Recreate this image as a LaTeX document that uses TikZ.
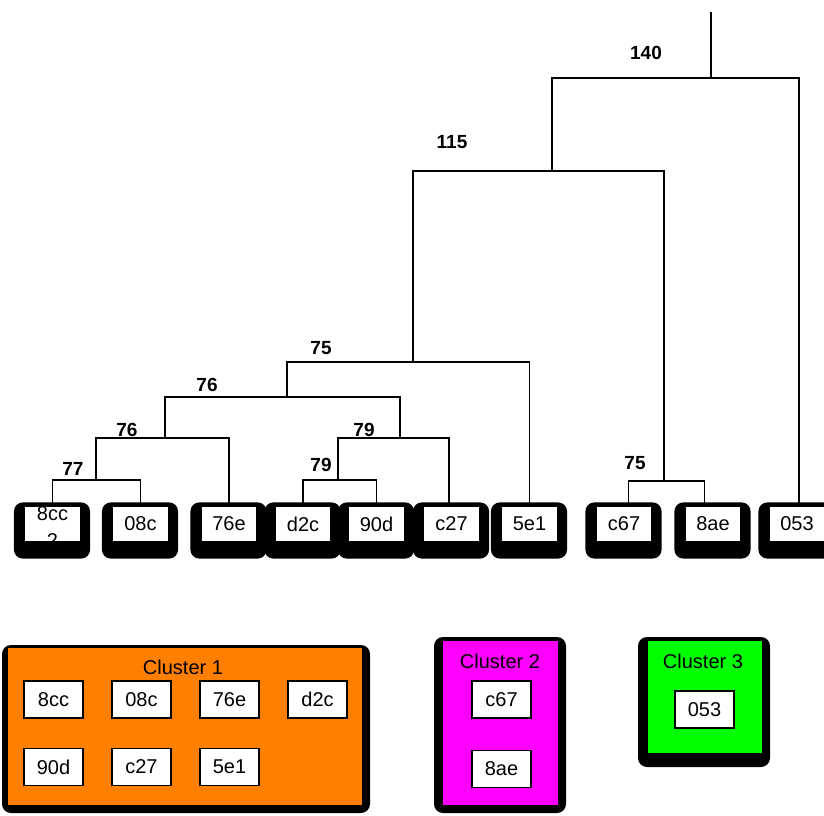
\documentclass[tikz,border=0pt]{standalone}
\usepackage{fontspec}
\setmainfont{Liberation Sans}
\usetikzlibrary{calc}
\pgfdeclarelayer{bg}
\pgfsetlayers{bg,main}
\definecolor{orangec}{RGB}{255,128,0}
\definecolor{magentac}{RGB}{255,0,255}
\definecolor{greenc}{RGB}{0,255,0}
\begin{document}
\begin{tikzpicture}[x=1pt,y=-1pt,
  leaf/.style={draw=black,line width=1.2pt,fill=white,minimum width=56pt,minimum height=36pt,inner sep=0pt,font=\fontsize{20}{24}\selectfont},
  ibox/.style={draw=black,line width=1.2pt,fill=white,minimum width=59pt,minimum height=37pt,inner sep=0pt,font=\fontsize{20}{24}\selectfont},
  lbl/.style={font=\fontsize{19}{22}\selectfont\bfseries,inner sep=0pt},
  ctitle/.style={font=\fontsize{20}{24}\selectfont,inner sep=0pt},
  dendro/.style={line width=1.2pt,black},
  shadowbox/.style={fill=black,rounded corners=9pt}]
\useasboundingbox (0,0) rectangle (824,815);

% leaves
\node[leaf] (l8cc) at (52.5,524) {};
\node[leaf] (l08c) at (140.5,524) {08c};
\node[leaf] (l76e) at (229,524) {76e};
\node[leaf] (ld2c) at (303,524) {d2c};
\node[leaf] (l90d) at (376.5,524) {90d};
\node[leaf] (lc27) at (451.5,524) {c27};
\node[leaf] (l5e1) at (529.5,524) {5e1};
\node[leaf] (lc67) at (624,524) {c67};
\node[leaf] (l8ae) at (713,524) {8ae};
\node[leaf] (l053) at (797,524) {053};
\begin{scope}
\clip (l8cc.north west) rectangle (l8cc.south east);
\node[align=center,inner sep=0pt,font=\fontsize{20}{27}\selectfont] (t8cc) at (52.5,527) {8cc\\2};
\end{scope}

\begin{pgfonlayer}{bg}
\foreach \n in {l8cc,l08c,l76e,ld2c,l90d,lc27,l5e1,lc67,l8ae,l053}{
  \fill[shadowbox] ($(\n.north west)+(-10pt,3pt)$) rectangle ($(\n.south east)+(9pt,-16pt)$);
}
\end{pgfonlayer}

% merge points
\coordinate (m77) at (96,480);
\coordinate (m76a) at (165,438);
\coordinate (m79a) at (338,480);
\coordinate (m79b) at (400,438);
\coordinate (m76b) at (287,397);
\coordinate (m75a) at (413,362);
\coordinate (m75b) at (664,481);
\coordinate (m115) at (552,171);
\coordinate (m140) at (711,78);
\coordinate (top) at (711,12);

% dendrogram
\draw[dendro] (l8cc.north) |- (m77) -| (l08c.north);
\draw[dendro] (m77) |- (m76a) -| (l76e.north);
\draw[dendro] (ld2c.north) |- (m79a) -| (l90d.north);
\draw[dendro] (m79a) |- (m79b) -| ($(lc27.north)+(-2.5pt,0)$);
\draw[dendro] (m76a) |- (m76b) -| (m79b);
\draw[dendro] (m76b) |- (m75a) -| (l5e1.north);
\draw[dendro] ($(lc67.north)+(4.5pt,0)$) |- (m75b) -| ($(l8ae.north)+(-8.5pt,0)$);
\draw[dendro] (m75a) |- (m115) -| (m75b);
\draw[dendro] (m115) |- (m140) -| ($(l053.north)+(2pt,0)$);
\draw[dendro] (m140) -- (top);

% labels
\node[lbl] (t77) at (73,469) {77};
\node[lbl] (t76a) at (127,430) {76};
\node[lbl] (t79a) at (321,465) {79};
\node[lbl] (t79b) at (364,430) {79};
\node[lbl] (t76b) at (207,385) {76};
\node[lbl] (t75a) at (321,348) {75};
\node[lbl] (t75b) at (635,463) {75};
\node[lbl] (t115) at (452,142) {115};
\node[lbl] (t140) at (646,53) {140};

% clusters
\fill[shadowbox] (2,645) rectangle (370,813);
\fill[orangec] (8,648) rectangle (362,805);
\node[ctitle] (c1) at (183,667) {Cluster 1};
\node[ibox] (a8cc) at (53.5,699.5) {8cc};
\node[ibox] (a08c) at (141.5,699.5) {08c};
\node[ibox] (a76e) at (229.5,699.5) {76e};
\node[ibox] (ad2c) at (317.5,699.5) {d2c};
\node[ibox] (a90d) at (53.5,767) {90d};
\node[ibox] (ac27) at (141.5,767) {c27};
\node[ibox] (a5e1) at (229.5,767) {5e1};

\fill[shadowbox] (434,637) rectangle (566,813);
\fill[magentac] (443,641) rectangle (558,805);
\node[ctitle] (c2) at (500,661) {Cluster 2};
\node[ibox] (bc67) at (501.5,699.5) {c67};
\node[ibox] (b8ae) at (501.5,769) {8ae};

\fill[shadowbox] (638,637) rectangle (770,767);
\fill[greenc] (648,641) rectangle (762,753);
\node[ctitle] (c3) at (703,661) {Cluster 3};
\node[ibox] (c053) at (704.5,709.5) {053};
\end{tikzpicture}
\end{document}
